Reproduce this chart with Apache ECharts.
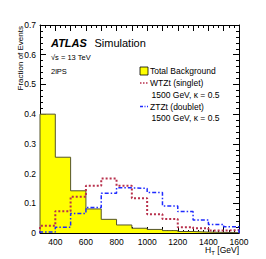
<!DOCTYPE html>
<html>
<head>
<meta charset="utf-8">
<script src="https://cdn.jsdelivr.net/npm/echarts@6/dist/echarts.min.js"></script>
<style>
html,body{margin:0;padding:0;background:#fff;}
#c{width:266px;height:259px;}
</style>
</head>
<body>
<div id="c"></div>
<script>
// Bin edges in GeV
var binEdges = [300, 400, 500, 600, 700, 800, 900, 1000, 1100, 1200, 1300, 1400, 1500, 1600];
// Fraction of events per bin
var totalBackground = [0.400, 0.255, 0.142, 0.081, 0.046, 0.027, 0.016, 0.012, 0.008, 0.005, 0.003, 0.002, 0.001];
var wtztSinglet     = [0.024, 0.073, 0.122, 0.159, 0.183, 0.159, 0.117, 0.063, 0.047, 0.019, 0.016, 0.008, 0.010];
var ztztDoublet     = [0.003, 0.019, 0.066, 0.086, 0.134, 0.152, 0.150, 0.136, 0.091, 0.072, 0.044, 0.029, 0.021];
var xTickLabels = [400, 600, 800, 1000, 1200, 1400, 1600];
var yTickLabels = [0, 0.1, 0.2, 0.3, 0.4, 0.5, 0.6, 0.7];

function steps(vals) {
  var pts = [[binEdges[0], 0]];
  for (var i = 0; i < vals.length; i++) {
    pts.push([binEdges[i], vals[i]]);
    pts.push([binEdges[i + 1], vals[i]]);
  }
  pts.push([binEdges[binEdges.length - 1], 0]);
  return pts;
}

var FONT = '"Liberation Sans", Arial, sans-serif';
var RED = '#b8304c';
var BLUE = '#1f2bff';

var chart = echarts.init(document.getElementById('c'), null, {renderer: 'svg'});

function xAxisCfg(pos, labels) {
  return {
    type: 'value', position: pos, min: 300, max: 1600, interval: 100,
    axisLine: {show: true, onZero: false, lineStyle: {color: '#000', width: 1}},
    axisTick: {show: true, inside: true, length: 6, lineStyle: {color: '#000'}},
    minorTick: {show: true, splitNumber: 3, length: 3, lineStyle: {color: '#000'}},
    splitLine: {show: false},
    axisLabel: labels ? {
      show: true, margin: 4, color: '#000', fontSize: 8.5, fontFamily: FONT,
      formatter: function (v) { return xTickLabels.indexOf(v) >= 0 ? String(v) : ''; },
      showMinLabel: true, showMaxLabel: true, hideOverlap: false
    } : {show: false}
  };
}
function yAxisCfg(pos, labels) {
  return {
    type: 'value', position: pos, min: 0, max: 0.7, interval: 0.1,
    axisLine: {show: true, onZero: false, lineStyle: {color: '#000', width: 1}},
    axisTick: {show: true, inside: true, length: 6, lineStyle: {color: '#000'}},
    minorTick: {show: true, splitNumber: 5, length: 3, lineStyle: {color: '#000'}},
    splitLine: {show: false},
    axisLabel: labels ? {
      show: true, margin: 4, color: '#000', fontSize: 8.5, fontFamily: FONT,
      formatter: function (v) {
        var r = Math.round(v * 10) / 10;
        return yTickLabels.indexOf(r) >= 0 ? (r === 0 ? '0' : r.toFixed(1)) : '';
      }
    } : {show: false}
  };
}

var tx = function (text, x, y, font, extra) {
  var s = {text: text, fill: '#000', font: font, textAlign: 'left', textVerticalAlign: 'middle'};
  if (extra) for (var k in extra) s[k] = extra[k];
  return {type: 'text', x: x, y: y, style: s, z: 100};
};

chart.setOption({
  animation: false,
  backgroundColor: '#fff',
  grid: {left: 40, right: 27, top: 25, bottom: 26, containLabel: false},
  xAxis: [xAxisCfg('bottom', true), xAxisCfg('top', false)],
  yAxis: [yAxisCfg('left', true), yAxisCfg('right', false)],
  series: [
    {
      name: 'Total Background', type: 'line', data: steps(totalBackground),
      showSymbol: false, symbol: 'none', z: 1,
      lineStyle: {color: '#55552a', width: 1},
      areaStyle: {color: '#ffff00', opacity: 1, origin: 'start'}
    },
    {
      name: 'WTZt (singlet)', type: 'line', data: steps(wtztSinglet),
      showSymbol: false, symbol: 'none', z: 3,
      lineStyle: {color: RED, width: 2, type: [2, 2]}
    },
    {
      name: 'ZTZt (doublet)', type: 'line', data: steps(ztztDoublet),
      showSymbol: false, symbol: 'none', z: 4,
      lineStyle: {color: BLUE, width: 1.5, type: [4, 2, 1.5, 2]}
    }
  ],
  graphic: [
    tx('ATLAS', 51, 42.5, 'italic bold 11px ' + FONT),
    tx('Simulation', 94.5, 42.5, '11px ' + FONT),
    tx('\u221As = 13 TeV', 51, 57, '7.5px ' + FONT),
    tx('2lPS', 51, 71.5, '7.5px ' + FONT),
    // legend
    {type: 'rect', shape: {x: 140, y: 67, width: 8, height: 8}, style: {fill: '#ffff00', stroke: '#000', lineWidth: 0.8}, z: 100},
    tx('Total Background', 150, 71, '8.5px ' + FONT),
    {type: 'line', shape: {x1: 140, y1: 83, x2: 148, y2: 83}, style: {stroke: RED, lineWidth: 1.5, lineDash: [1.5, 1.5]}, z: 100},
    tx('WTZt (singlet)', 150, 83, '8.5px ' + FONT),
    tx('1500 GeV, \u03BA = 0.5', 151.5, 94.8, '8.5px ' + FONT),
    {type: 'line', shape: {x1: 140, y1: 106.5, x2: 148, y2: 106.5}, style: {stroke: BLUE, lineWidth: 1.5, lineDash: [3, 1.5, 1, 1.5]}, z: 100},
    tx('ZTZt (doublet)', 150, 106.5, '8.5px ' + FONT),
    tx('1500 GeV, \u03BA = 0.5', 151.5, 118.3, '8.5px ' + FONT),
    // axis titles
    {type: 'text', x: 20, y: 26, rotation: Math.PI / 2, z: 100,
      style: {text: 'Fraction of Events', fill: '#000', font: '8px ' + FONT, textAlign: 'right', textVerticalAlign: 'middle'}},
    {type: 'text', x: 239, y: 250, z: 100, style: {
      text: 'H{s|T} [GeV]', fill: '#000', font: '8.5px ' + FONT, textAlign: 'right', textVerticalAlign: 'middle',
      rich: {s: {fontSize: 6, fontFamily: FONT, fill: '#000', padding: [5, 0, 0, 0]}}
    }}
  ]
});
</script>
</body>
</html>
